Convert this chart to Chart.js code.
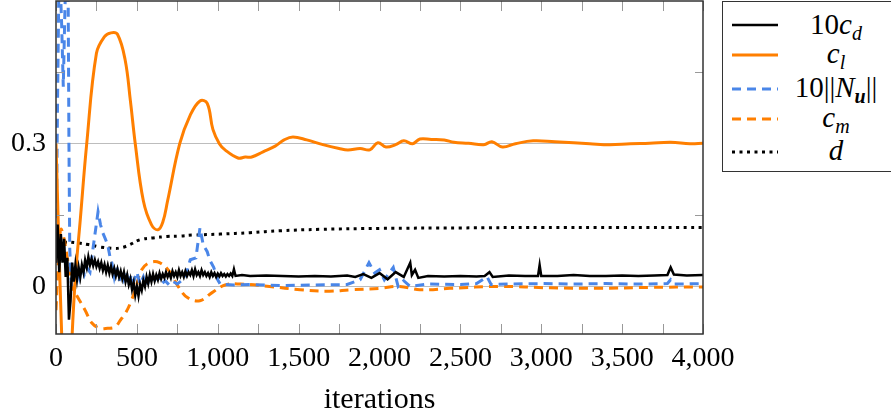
<!DOCTYPE html>
<html>
<head>
  <title>Convergence history</title>
  <script src="https://cdn.jsdelivr.net/npm/chart.js"></script>
  <style>
    body { margin: 0; background: #fff; }
    #wrap { position: relative; width: 891px; height: 416px; overflow: hidden; }
    #legend { position: absolute; left: 722px; top: 1px; width: 200px; height: 171px;
              border: 1.5px solid #333; box-sizing: border-box; background: #fff;
              font-family: "Liberation Serif", "DejaVu Serif", serif; font-size: 29px; font-style: italic; }
    .row { position: absolute; left: 0; height: 30px; width: 200px; }
    .row svg { position: absolute; left: 9px; top: 0; }
    .row span { position: absolute; left: 113px; top: 0; transform: translateX(-50%);
                white-space: nowrap; line-height: 30px; }
    .row span em { font-style: normal; }
    sub { font-size: 20px; vertical-align: baseline; position: relative; top: 6px; line-height: 0; }
  </style>
</head>
<body>
<div id="wrap">
  <canvas id="grafico" width="891" height="416"></canvas>
  <div id="legend"></div>
</div>
<script>
// ---- data ----
var cdIter = [0,10,20,30,40,50,60,70,80,90,100,110,120,130,140,150,160,170,180,190,200,210,220,230,240,250,260,270,280,290,300,310,320,330,340,350,360,370,380,390,400,410,420,430,440,450,460,470,480,490,500,510,520,530,540,550,560,570,580,590,600,610,620,630,640,650,660,670,680,690,700,710,720,730,740,750,760,770,780,790,800,810,820,830,840,850,860,870,880,890,900,910,920,930,940,950,960,970,980,990,1000,1010,1020,1030,1040,1050,1060,1070,1080,1090,1100,1110,1150,1200,1300,1400,1500,1600,1700,1800,1850,1900,1950,2000,2050,2100,2150,2190,2200,2220,2240,2300,2400,2500,2600,2650,2680,2700,2800,2900,2980,2990,3000,3100,3200,3300,3400,3500,3600,3700,3780,3800,3820,3900,4000];
var cdVal = [0.05,0.13,0.03,0.11,0.05,0.1,0.02,0.06,-0.07,-0.03,0.05,0.01,0.045,0.015,0.04,0.02,0.045,0.03,0.055,0.04,0.062,0.045,0.058,0.044,0.056,0.042,0.052,0.038,0.05,0.034,0.046,0.03,0.044,0.028,0.042,0.026,0.038,0.022,0.036,0.02,0.032,0.016,0.03,0.01,0.024,0.004,0.016,-0.006,0.008,-0.018,0.0,-0.02,0.004,-0.008,0.012,0.0,0.02,0.006,0.024,0.01,0.026,0.012,0.024,0.014,0.028,0.016,0.026,0.018,0.03,0.02,0.028,0.018,0.032,0.022,0.03,0.02,0.034,0.022,0.03,0.02,0.032,0.022,0.03,0.024,0.034,0.022,0.036,0.024,0.03,0.022,0.034,0.024,0.03,0.022,0.028,0.02,0.03,0.022,0.028,0.02,0.027,0.021,0.028,0.022,0.026,0.021,0.026,0.022,0.027,0.022,0.036,0.022,0.024,0.022,0.023,0.022,0.021,0.022,0.021,0.023,0.02,0.026,0.018,0.028,0.015,0.03,0.02,0.05,0.024,0.035,0.018,0.022,0.021,0.022,0.021,0.022,0.03,0.02,0.023,0.022,0.022,0.045,0.022,0.022,0.024,0.022,0.022,0.023,0.022,0.023,0.024,0.04,0.025,0.023,0.024];

var clIter = [0,15,35,50,65,80,100,120,150,190,250,300,340,380,427,460,490,540,590,630,660,690,765,830,890,935,970,1010,1045,1125,1170,1210,1280,1355,1410,1465,1550,1650,1750,1805,1880,1940,1990,2040,2100,2150,2205,2250,2320,2400,2460,2550,2645,2695,2760,2840,2950,3085,3200,3300,3425,3550,3670,3800,3920,4000];
var clVal = [0.3,0.12,-0.1,-0.22,-0.28,-0.27,-0.1,0.02,0.14,0.3,0.49,0.525,0.533,0.53,0.477,0.39,0.3,0.18,0.13,0.119,0.135,0.18,0.3,0.36,0.39,0.385,0.33,0.3,0.287,0.27,0.272,0.272,0.283,0.295,0.308,0.314,0.308,0.298,0.29,0.287,0.29,0.287,0.302,0.293,0.298,0.306,0.3,0.31,0.309,0.308,0.303,0.301,0.298,0.304,0.293,0.3,0.306,0.304,0.302,0.3,0.298,0.3,0.301,0.303,0.3,0.301];

var nuIter = [0,10,20,35,45,55,65,75,80,85,95,105,115,130,145,160,175,190,210,230,245,260,275,290,305,320,335,345,360,375,390,405,420,435,450,465,480,500,520,540,560,580,600,625,650,675,700,725,750,775,800,830,865,890,910,935,950,975,1000,1015,1100,1200,1400,1600,1800,1880,1935,1970,2000,2030,2085,2115,2150,2190,2300,2500,2600,2665,2690,2800,3000,3200,3400,3600,3780,3800,3820,4000];
var nuVal = [0.05,0.4,0.7,0.55,0.42,0.58,0.7,0.62,0.3,0.08,0.0,0.03,0.015,0.05,0.02,0.045,0.025,0.04,0.03,0.083,0.12,0.157,0.13,0.112,0.1,0.087,0.06,0.05,0.02,0.045,0.01,0.035,0.015,0.03,0.0,0.025,0.01,0.03,0.005,0.02,0.0,0.018,0.008,0.02,0.005,0.012,0.003,0.01,0.005,0.012,0.02,0.056,0.06,0.123,0.088,0.073,0.056,0.04,0.014,0.005,0.003,0.004,0.002,0.003,0.004,0.014,0.05,0.028,0.035,0.014,0.04,0.0,0.012,0.0,0.005,0.004,0.006,0.02,0.004,0.005,0.006,0.005,0.006,0.005,0.006,0.014,0.005,0.006];

var cmIter = [0,15,30,50,70,100,130,180,222,270,320,365,400,430,460,490,530,580,640,705,755,815,890,965,1045,1140,1320,1510,1690,1820,2000,2125,2250,2435,2745,3055,3360,3670,4000];
var cmVal = [-0.05,0.06,0.12,0.1,0.06,0.0,-0.02,-0.05,-0.077,-0.088,-0.088,-0.085,-0.07,-0.056,-0.035,-0.007,0.035,0.05,0.05,0.03,0.0,-0.024,-0.03,-0.013,0.003,0.005,0.0,-0.007,-0.01,-0.007,-0.004,0.0,-0.007,-0.004,0.0,-0.003,-0.004,-0.002,-0.001];

var dIter = [0,20,60,120,200,270,365,396,430,457,519,600,686,767,847,1015,1200,1385,1632,2000,2500,3000,3500,4000];
var dVal = [0.07,0.09,0.093,0.092,0.088,0.083,0.08,0.081,0.084,0.088,0.098,0.102,0.105,0.106,0.108,0.11,0.113,0.117,0.12,0.122,0.123,0.124,0.124,0.124];

var xTicks = [0, 500, 1000, 1500, 2000, 2500, 3000, 3500, 4000];
var xMinorTicks = [250, 750, 1250, 1750, 2250, 2750, 3250, 3750];
var yTicks = [0, 0.3];
var yMinorTicks = [0.15, 0.45];

var orange = '#ff7f00';
var blue = '#4a86e8';

function pts(xs, ys) {
  return xs.map(function (x, i) { return { x: x, y: ys[i] }; });
}
function thousands(v) {
  return String(v).replace(/\B(?=(\d{3})+(?!\d))/g, ',');
}

var series = [
  { label: '10c_d', data: pts(cdIter, cdVal), color: '#000', width: 2.5, dash: [], tension: 0 },
  { label: 'c_l', data: pts(clIter, clVal), color: orange, width: 3, dash: [], tension: 0.4 },
  { label: '10||N_u||', data: pts(nuIter, nuVal), color: blue, width: 3, dash: [9, 6], tension: 0 },
  { label: 'c_m', data: pts(cmIter, cmVal), color: orange, width: 3, dash: [9, 6], tension: 0.4 },
  { label: 'd', data: pts(dIter, dVal), color: '#000', width: 3, dash: [3, 4.5], tension: 0.4 }
];

// frame and inward ticks, pgfplots style
var frame = {
  id: 'frame',
  afterDraw: function (chart) {
    var ctx = chart.ctx, a = chart.chartArea, x = chart.scales.x, y = chart.scales.y;
    ctx.save();
    ctx.strokeStyle = '#999';
    ctx.lineWidth = 1;
    ctx.beginPath();
    xTicks.concat(xMinorTicks).forEach(function (v) {
      var px = Math.round(x.getPixelForValue(v)) + 0.5;
      ctx.moveTo(px, a.bottom); ctx.lineTo(px, a.bottom - 10);
      ctx.moveTo(px, a.top); ctx.lineTo(px, a.top + 10);
    });
    yMinorTicks.forEach(function (v) {
      var py = Math.round(y.getPixelForValue(v)) + 0.5;
      ctx.moveTo(a.left, py); ctx.lineTo(a.left + 8, py);
      ctx.moveTo(a.right, py); ctx.lineTo(a.right - 8, py);
    });
    ctx.stroke();
    ctx.strokeStyle = '#333';
    ctx.lineWidth = 1.5;
    ctx.strokeRect(a.left, a.top, a.right - a.left, a.bottom - a.top);
    ctx.restore();
  }
};

Chart.defaults.font.family = '"Liberation Serif", serif';
Chart.defaults.color = '#000';

new Chart(document.getElementById('grafico').getContext('2d'), {
  type: 'line',
  data: {
    datasets: series.map(function (s) {
      return {
        label: s.label, data: s.data, borderColor: s.color, borderWidth: s.width,
        borderDash: s.dash, tension: s.tension, pointRadius: 0, fill: false
      };
    })
  },
  options: {
    responsive: false,
    animation: false,
    devicePixelRatio: 1,
    layout: { padding: { top: 1, right: 188, left: 0, bottom: 0 } },
    plugins: { legend: { display: false }, tooltip: { enabled: false } },
    scales: {
      x: {
        type: 'linear', min: 0, max: 4000,
        afterBuildTicks: function (s) { s.ticks = xTicks.map(function (v) { return { value: v }; }); },
        afterFit: function (s) { s.height = 82; s.paddingLeft = 0; s.paddingRight = 0; },
        grid: { display: false },
        border: { display: false },
        ticks: { font: { size: 28 }, padding: 0, maxRotation: 0, autoSkip: false,
                 callback: function (v) { return thousands(v); } },
        title: { display: true, text: 'iterations', font: { size: 30 }, padding: { top: 6, bottom: -2 } }
      },
      y: {
        type: 'linear', min: -0.1, max: 0.6,
        afterBuildTicks: function (s) { s.ticks = yTicks.map(function (v) { return { value: v }; }); },
        afterFit: function (s) { s.width = 56; s.paddingTop = 0; s.paddingBottom = 0; },
        grid: { color: '#bdbdbd', lineWidth: 1, drawTicks: false, tickLength: 0 },
        border: { display: false },
        ticks: { font: { size: 28 }, padding: 10, callback: function (v) { return String(v); } }
      }
    }
  },
  plugins: [frame]
});

// legend as html, so subscripts stay real text
var legendRows = [
  { html: '<em>10</em>c<sub>d</sub>', top: 7 },
  { html: 'c<sub>l</sub>', top: 36 },
  { html: '<em>10||</em>N<sub><b>u</b></sub><em>||</em>', top: 70 },
  { html: 'c<sub>m</sub>', top: 100 },
  { html: 'd', top: 133 }
];
var legend = document.getElementById('legend');
legendRows.forEach(function (r, i) {
  var s = series[i];
  var row = document.createElement('div');
  row.className = 'row';
  row.style.top = r.top + 'px';
  row.innerHTML = '<svg width="46" height="30" style="top:' + (i === 0 ? 1 : 2) + 'px"><line x1="0" y1="15" x2="46" y2="15" stroke="' + s.color +
    '" stroke-width="' + s.width + '" stroke-dasharray="' + (s.dash.length ? s.dash.join(',') : 'none') +
    '"/></svg><span>' + r.html + '</span>';
  legend.appendChild(row);
});
</script>
</body>
</html>
